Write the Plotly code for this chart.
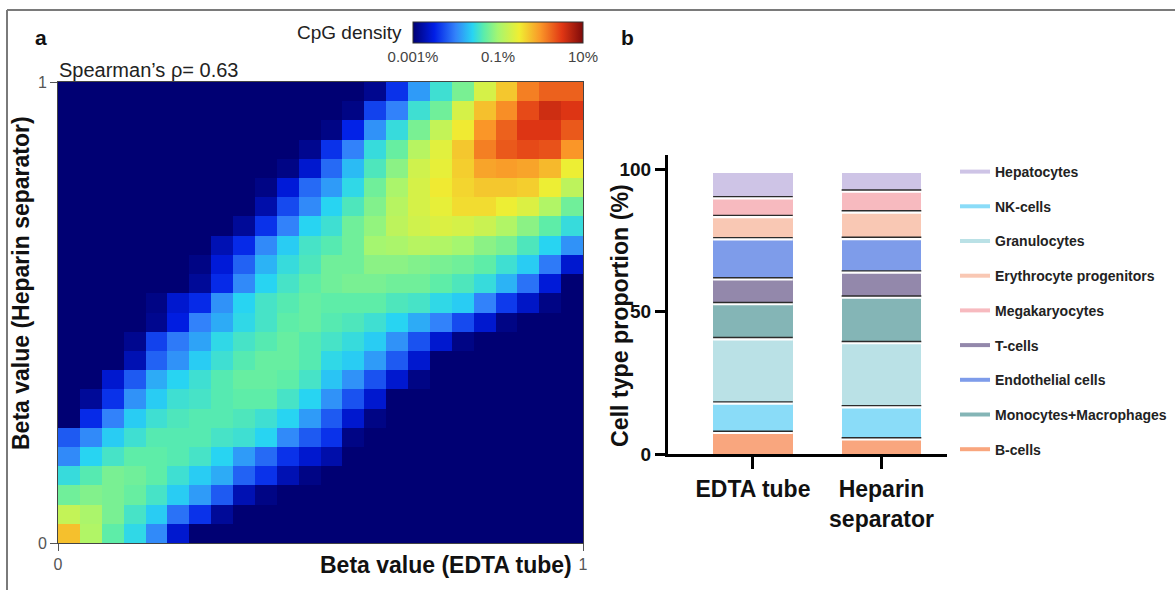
import plotly.graph_objects as go

FONT = "Liberation Sans, Arial, sans-serif"
W, H = 1175, 590


def px(x):
    return x / W


def py(y):
    return 1 - y / H


# ---- panel a: 2D histogram of beta values, log10 of CpG density (%) per bin ----
# rows listed from beta = 1 (top) down to beta = 0 (bottom), 24 bins per axis
density_rows_top_down = [
    [-3, -3, -3, -3, -3, -3, -3, -3, -3, -3, -3, -3, -3, -3, -2.88, -2.4, -1.88, -1.48, -1.2, -0.68, -0.28, 0.12, 0.28, 0.28],
    [-3, -3, -3, -3, -3, -3, -3, -3, -3, -3, -3, -3, -3, -2.92, -2.32, -2.0, -1.48, -1.24, -0.68, -0.24, 0.04, 0.4, 0.6, 0.52],
    [-3, -3, -3, -3, -3, -3, -3, -3, -3, -3, -3, -3, -2.92, -2.48, -1.92, -1.52, -1.2, -0.8, -0.48, 0.0, 0.28, 0.52, 0.52, 0.32],
    [-3, -3, -3, -3, -3, -3, -3, -3, -3, -3, -3, -2.88, -2.4, -2.0, -1.52, -1.28, -0.88, -0.6, -0.28, 0.12, 0.32, 0.4, 0.36, 0.0],
    [-3, -3, -3, -3, -3, -3, -3, -3, -3, -3, -2.92, -2.6, -2.12, -1.72, -1.4, -1.12, -0.72, -0.56, -0.32, -0.08, -0.04, -0.08, -0.2, -0.52],
    [-3, -3, -3, -3, -3, -3, -3, -3, -3, -2.92, -2.56, -2.12, -1.88, -1.56, -1.24, -0.96, -0.68, -0.48, -0.36, -0.28, -0.28, -0.32, -0.52, -0.84],
    [-3, -3, -3, -3, -3, -3, -3, -3, -3, -2.76, -2.28, -1.96, -1.6, -1.4, -1.16, -0.88, -0.68, -0.56, -0.4, -0.4, -0.52, -0.64, -0.92, -1.24],
    [-3, -3, -3, -3, -3, -3, -3, -3, -2.84, -2.4, -2.0, -1.6, -1.48, -1.24, -1.08, -0.84, -0.72, -0.64, -0.68, -0.76, -0.92, -1.12, -1.32, -1.52],
    [-3, -3, -3, -3, -3, -3, -3, -2.72, -2.44, -1.96, -1.64, -1.44, -1.36, -1.24, -1.0, -0.96, -0.88, -0.92, -1.0, -1.12, -1.2, -1.4, -1.6, -1.92],
    [-3, -3, -3, -3, -3, -3, -2.92, -2.56, -2.16, -1.76, -1.52, -1.4, -1.24, -1.24, -1.12, -1.12, -1.16, -1.2, -1.24, -1.32, -1.48, -1.64, -2.04, -2.6],
    [-3, -3, -3, -3, -3, -3, -2.84, -2.44, -1.96, -1.6, -1.44, -1.32, -1.24, -1.2, -1.2, -1.24, -1.24, -1.32, -1.4, -1.52, -1.76, -2.08, -2.56, -3],
    [-3, -3, -3, -3, -2.92, -2.6, -2.44, -1.92, -1.6, -1.44, -1.36, -1.28, -1.32, -1.32, -1.32, -1.4, -1.44, -1.56, -1.64, -2.0, -2.36, -2.64, -2.92, -3],
    [-3, -3, -3, -3, -2.88, -2.52, -2.0, -1.8, -1.56, -1.44, -1.32, -1.28, -1.36, -1.4, -1.48, -1.6, -1.8, -2.0, -2.28, -2.6, -2.92, -3, -3, -3],
    [-3, -3, -3, -2.88, -2.32, -2.04, -1.84, -1.56, -1.44, -1.36, -1.28, -1.36, -1.44, -1.52, -1.64, -1.92, -2.24, -2.6, -2.92, -3, -3, -3, -3, -3],
    [-3, -3, -3, -2.72, -2.16, -1.92, -1.64, -1.48, -1.36, -1.28, -1.28, -1.36, -1.56, -1.64, -1.88, -2.2, -2.6, -3, -3, -3, -3, -3, -3, -3],
    [-3, -3, -2.6, -2.2, -1.8, -1.6, -1.48, -1.36, -1.28, -1.28, -1.32, -1.44, -1.68, -1.92, -2.24, -2.6, -2.92, -3, -3, -3, -3, -3, -3, -3],
    [-3, -2.84, -2.4, -1.92, -1.64, -1.48, -1.44, -1.36, -1.32, -1.32, -1.44, -1.6, -1.92, -2.24, -2.6, -3, -3, -3, -3, -3, -3, -3, -3, -3],
    [-3, -2.44, -2.0, -1.64, -1.48, -1.4, -1.36, -1.36, -1.4, -1.48, -1.6, -1.88, -2.2, -2.6, -2.92, -3, -3, -3, -3, -3, -3, -3, -3, -3],
    [-2.2, -1.96, -1.64, -1.48, -1.36, -1.36, -1.36, -1.44, -1.48, -1.6, -1.96, -2.2, -2.4, -2.92, -3, -3, -3, -3, -3, -3, -3, -3, -3, -3],
    [-1.96, -1.6, -1.44, -1.32, -1.32, -1.36, -1.44, -1.6, -1.88, -2.12, -2.4, -2.6, -2.76, -3, -3, -3, -3, -3, -3, -3, -3, -3, -3, -3],
    [-1.52, -1.36, -1.2, -1.24, -1.32, -1.48, -1.64, -1.8, -2.16, -2.4, -2.72, -2.92, -3, -3, -3, -3, -3, -3, -3, -3, -3, -3, -3, -3],
    [-1.24, -1.16, -1.2, -1.28, -1.44, -1.64, -1.88, -2.2, -2.72, -2.92, -3, -3, -3, -3, -3, -3, -3, -3, -3, -3, -3, -3, -3, -3],
    [-0.8, -0.96, -1.2, -1.44, -1.64, -2.08, -2.4, -2.84, -3, -3, -3, -3, -3, -3, -3, -3, -3, -3, -3, -3, -3, -3, -3, -3],
    [-0.24, -0.92, -1.32, -1.56, -1.96, -2.6, -3, -3, -3, -3, -3, -3, -3, -3, -3, -3, -3, -3, -3, -3, -3, -3, -3, -3],
]
n_bins = len(density_rows_top_down)
heat_z = density_rows_top_down[::-1]  # heatmap rows go bottom -> top

density_tickvals = [-3, -1, 1]
density_ticktext = ["0.001%", "0.1%", "10%"]
spearman_label = "Spearman’s ρ= 0.63"

jet = [
    [0.0, "rgb(0,0,115)"],
    [0.125, "rgb(0,30,230)"],
    [0.25, "rgb(50,130,250)"],
    [0.35, "rgb(40,212,242)"],
    [0.415, "rgb(90,236,172)"],
    [0.5, "rgb(165,246,112)"],
    [0.625, "rgb(240,238,50)"],
    [0.75, "rgb(250,150,40)"],
    [0.875, "rgb(225,55,20)"],
    [1.0, "rgb(125,10,10)"],
]

# ---- panel b: cell type proportions (%) per collection tube, stacked bottom -> top ----
samples = ["EDTA tube", "Heparin<br>separator"]
cell_types = ["B-cells", "NK-cells", "Granulocytes", "Monocytes+Macrophages", "T-cells",
              "Endothelial cells", "Erythrocyte progenitors", "Megakaryocytes", "Hepatocytes"]
edta_pct = [8.0, 10.3, 22.6, 12.3, 8.7, 14.1, 7.8, 6.6, 8.2]
heparin_pct = [5.7, 11.3, 22.5, 16.0, 8.8, 11.8, 9.3, 7.3, 5.9]
legend_order = ["Hepatocytes", "NK-cells", "Granulocytes", "Erythrocyte progenitors", "Megakaryocytes",
                "T-cells", "Endothelial cells", "Monocytes+Macrophages", "B-cells"]
cell_colors = {
    "B-cells": "#F9A67E",
    "NK-cells": "#8ADCF8",
    "Granulocytes": "#BAE1E6",
    "Monocytes+Macrophages": "#84B5B6",
    "T-cells": "#9388AB",
    "Endothelial cells": "#7E9CEA",
    "Erythrocyte progenitors": "#F9C8B4",
    "Megakaryocytes": "#F7BABF",
    "Hepatocytes": "#CEC4E6",
}

BAR_WIDTH = 0.62

fig = go.Figure()

fig.add_trace(go.Heatmap(
    z=heat_z,
    x0=0.5 / n_bins, dx=1 / n_bins,
    y0=0.5 / n_bins, dy=1 / n_bins,
    zmin=-3, zmax=1,
    colorscale=jet,
    xaxis="x", yaxis="y",
    colorbar=dict(
        orientation="h",
        x=px(498), xanchor="center",
        y=py(22), yanchor="top",
        len=170, lenmode="pixels",
        thickness=21, thicknessmode="pixels",
        xpad=0, ypad=0,
        outlinewidth=1, outlinecolor="#333",
        tickvals=density_tickvals, ticktext=density_ticktext,
        ticks="", ticklabelposition="outside",
        tickfont=dict(family=FONT, size=15, color="#444"),
    ),
))

stacks = [edta_pct, heparin_pct]
for k, name in enumerate(cell_types):
    fig.add_trace(go.Bar(
        x=samples,
        y=[stack[k] for stack in stacks],
        width=BAR_WIDTH,
        marker=dict(color=cell_colors[name], line=dict(width=0)),
        name=name,
        showlegend=False,
        xaxis="x2", yaxis="y2",
    ))

# legend entries drawn as short thick lines
for rank, name in enumerate(legend_order):
    fig.add_trace(go.Scatter(
        x=[None], y=[None], mode="lines",
        line=dict(color=cell_colors[name], width=4),
        name=name, legendgroup=name, legendrank=rank + 1,
        xaxis="x2", yaxis="y2",
    ))

# white gap + dark rule at each boundary between stacked segments
shapes = []
for i, stack in enumerate(stacks):
    top = 0.0
    for v in stack[:-1]:
        top += v
        shapes.append(dict(type="rect", xref="x2", yref="y2",
                           x0=i - BAR_WIDTH / 2, x1=i + BAR_WIDTH / 2,
                           y0=top - 1.0, y1=top,
                           fillcolor="white", line=dict(width=0), layer="above"))
        shapes.append(dict(type="line", xref="x2", yref="y2",
                           x0=i - BAR_WIDTH / 2, x1=i + BAR_WIDTH / 2,
                           y0=top, y1=top,
                           line=dict(color="#2b2b2b", width=1.4), layer="above"))

# figure frame (top and left edges)
shapes.append(dict(type="line", xref="paper", yref="paper",
                   x0=px(7), x1=1, y0=py(10), y1=py(10),
                   line=dict(color="#7a7a7a", width=2)))
shapes.append(dict(type="line", xref="paper", yref="paper",
                   x0=px(7), x1=px(7), y0=0, y1=py(10),
                   line=dict(color="#7a7a7a", width=2)))


def label(text, x, y, size, color="#111", xanchor="center", angle=0):
    return dict(text=text, x=px(x), y=py(y), xref="paper", yref="paper",
                xanchor=xanchor, yanchor="middle", textangle=angle,
                showarrow=False, font=dict(family=FONT, size=size, color=color))


annotations = [
    label("<b>a</b>", 41, 38, 21),
    label("<b>b</b>", 627, 38, 21),
    label("CpG density", 404, 32, 19, color="#222", xanchor="right"),
    label(spearman_label, 57, 70, 20, color="#222", xanchor="left"),
    label("<b>Beta value (EDTA tube)</b>", 574, 565, 23, xanchor="right"),
    label("<b>Beta value (Heparin separator)</b>", 21, 283, 23, angle=-90),
    label("<b>Cell type proportion (%)</b>", 620, 316, 23.2, angle=-90),
]

heat_axis = dict(
    range=[0, 1], tickvals=[0, 1], ticktext=["0", "1"],
    ticks="outside", ticklen=7, tickwidth=1, tickcolor="#555",
    showline=True, linecolor="#444", linewidth=1, mirror=True,
    showgrid=False, zeroline=False,
    tickfont=dict(family=FONT, size=16, color="#555"),
)

fig.update_layout(
    width=W, height=H,
    margin=dict(l=0, r=0, t=0, b=0, autoexpand=False),
    paper_bgcolor="white", plot_bgcolor="white",
    barmode="stack", bargap=0,
    font=dict(family=FONT),
    xaxis=dict(domain=[px(58), px(583)], anchor="y", **heat_axis),
    yaxis=dict(domain=[py(543), py(82)], anchor="x", **heat_axis),
    xaxis2=dict(
        domain=[px(668), px(947)], anchor="y2", type="category",
        range=[-0.661, 1.51],
        showline=True, linecolor="black", linewidth=3,
        ticks="outside", ticklen=12, tickwidth=3, tickcolor="black",
        showgrid=False, zeroline=False,
        tickfont=dict(family=FONT, size=23, color="#111", weight="bold"),
    ),
    yaxis2=dict(
        domain=[py(454), py(155)], anchor="x2",
        range=[0, 105], tickvals=[0, 50, 100],
        showline=True, linecolor="black", linewidth=3,
        ticks="outside", ticklen=10, tickwidth=3, tickcolor="black",
        showgrid=False, zeroline=False,
        tickfont=dict(family=FONT, size=19, color="#111", weight="bold"),
    ),
    legend=dict(
        x=px(955), y=py(156), xanchor="left", yanchor="top",
        font=dict(family=FONT, size=14, color="#222", weight="bold"),
        tracegroupgap=13.5, bgcolor="rgba(0,0,0,0)",
    ),
    shapes=shapes,
    annotations=annotations,
)

fig.write_html("out.html")
